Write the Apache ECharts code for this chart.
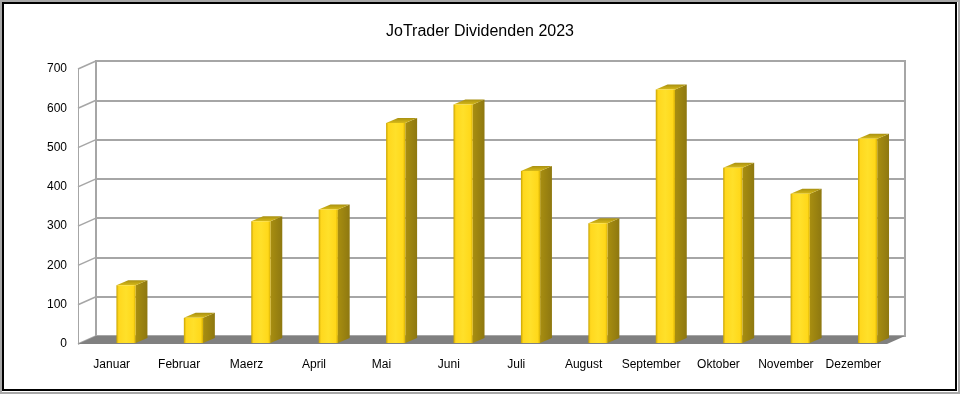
<!DOCTYPE html>
<html>
<head>
<meta charset="utf-8">
<script src="https://cdn.jsdelivr.net/npm/echarts@6/dist/echarts.min.js"></script>
<style>
  html, body { margin: 0; padding: 0; background: #ffffff; }
  #frame { position: absolute; left: 0; top: 0; width: 960px; height: 394px; box-sizing: border-box;
           border: 2px solid #a8a8a8; }
  #inner { position: absolute; left: 2px; top: 2px; width: 955px; height: 389px; box-sizing: border-box;
           border: 2px solid #000; background: #fff; }
  #main { position: absolute; left: 0; top: 0; width: 960px; height: 394px; }
</style>
</head>
<body>
<div id="frame"></div>
<div id="inner"></div>
<div id="main"></div>
<script>
const titleText = 'JoTrader Dividenden 2023';
const months = ['Januar', 'Februar', 'Maerz', 'April', 'Mai', 'Juni', 'Juli', 'August', 'September', 'Oktober', 'November', 'Dezember'];
const dividends = [147, 64, 310, 340, 560, 607, 438, 305, 645, 446, 380, 520];
const yTicks = [0, 100, 200, 300, 400, 500, 600, 700];

const DX = 18, DY = -8; // depth offset from front plane to back wall

const chart = echarts.init(document.getElementById('main'), null, { renderer: 'canvas' });

const barData = dividends.map((v, i) => [i, v]);

const frontFace = new echarts.graphic.LinearGradient(0, 0, 1, 0, [
  { offset: 0, color: '#C9A300' },
  { offset: 0.12, color: '#FFD81E' },
  { offset: 0.5, color: '#FFE02A' },
  { offset: 0.88, color: '#FFD81A' },
  { offset: 1, color: '#D8B000' }
]);
const sideFace = new echarts.graphic.LinearGradient(0, 0, 1, 0, [
  { offset: 0, color: '#A88E10' },
  { offset: 1, color: '#8E7810' }
]);
const topFace = new echarts.graphic.LinearGradient(0, 1, 0, 0, [
  { offset: 0, color: '#D8BA18' },
  { offset: 1, color: '#A89012' }
]);

const option = {
  animation: false,
  backgroundColor: 'transparent',
  title: {
    text: titleText,
    left: 'center',
    top: 19,
    textStyle: { fontFamily: 'Liberation Sans, Arial, sans-serif', fontSize: 16, fontWeight: 'normal', color: '#000' }
  },
  grid: [
    { // back wall
      left: 96, right: 55, top: 61, bottom: 58,
      show: true, backgroundColor: '#ffffff', borderColor: '#a6a6a6', borderWidth: 2
    },
    { // front plane
      left: 78, right: 73, top: 69, bottom: 50, show: false
    }
  ],
  xAxis: [
    { type: 'category', gridIndex: 0, data: months, show: false },
    {
      type: 'category', gridIndex: 1, data: months,
      axisLine: { show: false }, axisTick: { show: false },
      axisLabel: { margin: 15, color: '#000', fontSize: 12, fontFamily: 'Liberation Sans, Arial, sans-serif', interval: 0 }
    }
  ],
  yAxis: [
    {
      type: 'value', gridIndex: 0, min: 0, max: 700, interval: 100,
      axisLine: { show: false }, axisTick: { show: false }, axisLabel: { show: false },
      splitLine: { show: true, lineStyle: { color: '#a6a6a6', width: 2 } }
    },
    {
      type: 'value', gridIndex: 1, min: 0, max: 700, interval: 100,
      axisLine: { show: true, lineStyle: { color: '#a6a6a6', width: 1 } },
      axisTick: { show: false },
      splitLine: { show: false },
      axisLabel: { margin: 11, padding: [5, 0, 0, 0], color: '#000', fontSize: 12, fontFamily: 'Liberation Sans, Arial, sans-serif' }
    }
  ],
  series: [
    { // left wall depth lines
      type: 'custom', xAxisIndex: 1, yAxisIndex: 1, silent: true,
      data: yTicks.map(v => [0, v]),
      renderItem: function (params, api) {
        const cs = params.coordSys;
        const p = api.coord([0, api.value(1)]);
        return {
          type: 'line',
          shape: { x1: cs.x, y1: p[1], x2: cs.x + DX, y2: p[1] + DY },
          style: { stroke: '#a6a6a6', lineWidth: 1.5 }
        };
      }
    },
    { // floor
      type: 'custom', xAxisIndex: 1, yAxisIndex: 1, silent: true,
      data: [[0, 0]],
      renderItem: function (params, api) {
        const cs = params.coordSys;
        const b = api.coord([0, 0])[1];
        const xl = cs.x, xr = cs.x + cs.width;
        return {
          type: 'polygon',
          shape: { points: [[xl, b], [xr, b], [xr + DX, b + DY], [xl + DX, b + DY]] },
          style: { fill: '#808080' }
        };
      }
    },
    { // 3D bars
      type: 'custom', xAxisIndex: 1, yAxisIndex: 1,
      data: barData,
      encode: { x: 0, y: 1 },
      renderItem: function (params, api) {
        const i = api.value(0), v = api.value(1);
        const top = api.coord([i, v]);
        const base = api.coord([i, 0]);
        const band = api.size([1, 0])[0];
        const w = band * 0.285, off = band * 0.07, dx = band * 0.175, dy = -5;
        const x0 = top[0] + off, x1 = x0 + w;
        const yt = top[1] - 1, yb = base[1] - 1;
        return {
          type: 'group',
          children: [
            {
              type: 'polygon',
              shape: { points: [[x1, yt], [x1 + dx, yt + dy], [x1 + dx, yb + dy], [x1, yb]] },
              style: { fill: sideFace }
            },
            {
              type: 'polygon',
              shape: { points: [[x0, yt], [x0 + dx, yt + dy], [x1 + dx, yt + dy], [x1, yt]] },
              style: { fill: topFace }
            },
            {
              type: 'rect',
              shape: { x: x0, y: yt, width: w, height: yb - yt },
              style: { fill: frontFace }
            }
          ]
        };
      }
    }
  ]
};
chart.setOption(option);
</script>
</body>
</html>
